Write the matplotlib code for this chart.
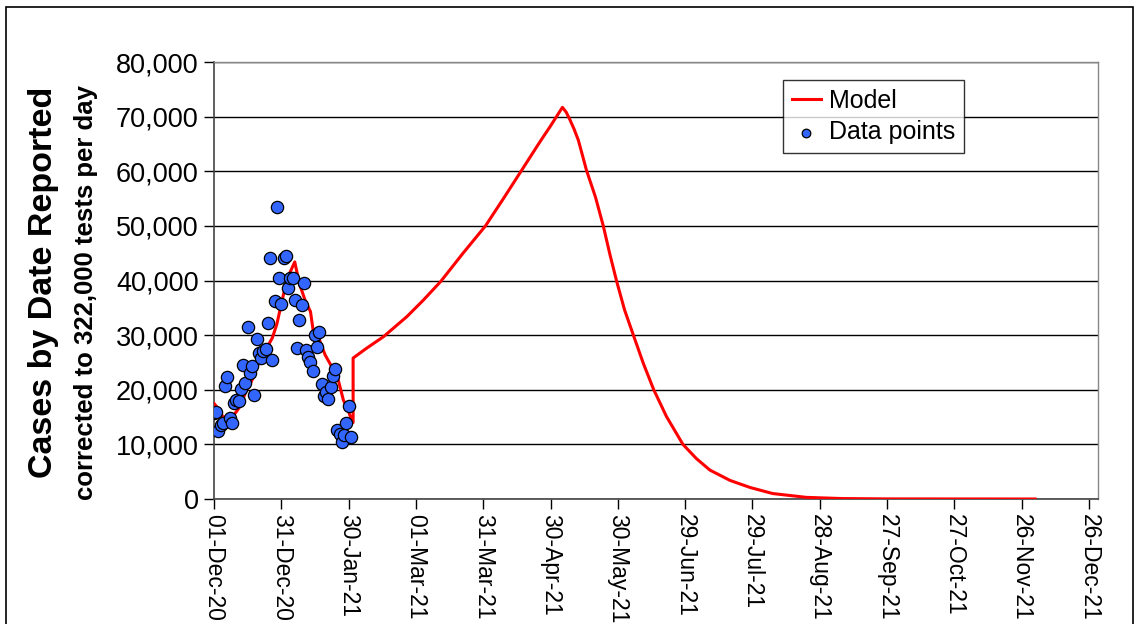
import numpy as np
import matplotlib.pyplot as plt
import matplotlib.dates as mdates
from matplotlib.patches import Rectangle
from matplotlib.ticker import FuncFormatter

plt.rcParams['font.family'] = ['Liberation Sans', 'DejaVu Sans']

START = np.datetime64('2020-12-01')

# daily reported cases, 01-Dec-20 .. 31-Jan-21 (thousands)
data_day = np.arange(62)
data_k = [15.7, 15.9, 12.4, 13.5, 14.0, 20.7, 22.4, 14.8, 13.9, 17.6,
          18.2, 17.9, 20.2, 24.6, 21.2, 31.5, 23.0, 24.4, 19.0, 29.2,
          26.8, 25.9, 27.1, 27.4, 32.3, 44.2, 25.5, 36.3, 53.4, 40.4,
          35.7, 44.2, 44.5, 38.7, 40.5, 40.4, 36.4, 27.7, 32.8, 35.5,
          39.5, 27.3, 26.0, 25.0, 23.5, 30.0, 27.8, 30.6, 21.0, 18.9,
          19.5, 18.3, 20.5, 22.6, 23.8, 12.7, 11.9, 10.4, 11.7, 14.0,
          17.1, 11.3]

# model curve (day offset, thousands)
model_day = [0, 2, 4, 8, 10, 12, 14, 17, 20, 22, 26, 28, 31, 33, 35, 36,
             38, 40.6, 43, 44.3, 47, 49.5, 52.5, 55.4, 57.7, 60, 61.5, 62,
             62, 68, 75.5, 86, 93.3, 101, 111, 121, 129, 137, 145.3, 150,
             155.3, 157, 158.7, 160.5, 162.4, 164.2, 166, 170, 173.5, 176.5,
             179.5, 183, 187, 191.4, 196, 201.7, 209, 215, 221, 230, 239,
             249, 264, 280, 300, 366]
model_k = [17.5, 16.5, 15.0, 15.0, 16.0, 17.2, 19.5, 21.8, 25.0, 26.5, 29.5,
           32.0, 37.5, 40.7, 42.5, 43.4, 39.5, 36.4, 34.3, 30.6, 29.1, 26.4,
           24.2, 21.8, 18.1, 16.0, 14.2, 14.0,
           25.8, 27.6, 29.7, 33.4, 36.4, 39.8, 45.0, 50.0, 55.0, 60.1, 65.4,
           68.3, 71.7, 70.8, 69.4, 67.7, 65.7, 63.0, 60.2, 55.3, 50.0, 44.7,
           39.8, 34.6, 29.9, 24.8, 20.0, 15.1, 10.0, 7.4, 5.3, 3.4, 2.1,
           1.0, 0.3, 0.08, 0.02, 0.0]

tick_days = np.arange(0, 391, 30)

data_x = START + data_day.astype('timedelta64[D]')
model_x = START + (np.array(model_day) * 24).astype(int).astype('timedelta64[h]')
data_y = np.array(data_k) * 1000
model_y = np.array(model_k) * 1000

W, H = 1135, 624
fig = plt.figure(figsize=(W / 100, H / 100), dpi=100)
ax = fig.add_axes([214 / W, 1 - 499 / H, (1098 - 214) / W, (499 - 62) / H])

ax.plot(model_x, model_y, color='red', lw=2.2, label='Model', zorder=3)
ax.scatter(data_x, data_y, s=78, color='#3366ff', edgecolor='black',
           linewidth=0.9, label='Data points', zorder=4)

ax.set_ylim(0, 80000)
ax.set_yticks(np.arange(0, 80001, 10000))
ax.yaxis.set_major_formatter(FuncFormatter(lambda v, p: f'{int(v):,}'))
ax.grid(axis='y', color='black', lw=1)
ax.set_axisbelow(True)

ax.set_xlim(START, START + np.timedelta64(394, 'D'))
ax.set_xticks(START + tick_days.astype('timedelta64[D]'))
ax.xaxis.set_major_formatter(mdates.DateFormatter('%d-%b-%y'))
plt.setp(ax.get_xticklabels(), rotation=-90, ha='center', va='top')

ax.tick_params(axis='y', labelsize=19.5, length=7, width=1, direction='out', pad=4)
ax.tick_params(axis='x', labelsize=16.5, length=7, width=1, direction='out', pad=4)
for side in ['left', 'bottom']:
    ax.spines[side].set_color('#444444')
    ax.spines[side].set_linewidth(1.2)
for side in ['top', 'right']:
    ax.spines[side].set_color('#888888')
    ax.spines[side].set_linewidth(1)

fig.text(44 / W, 1 - 282 / H, 'Cases by Date Reported', rotation=90,
         fontsize=24.5, fontweight='bold', ha='center', va='center')
fig.text(86 / W, 1 - 292 / H, 'corrected to 322,000 tests per day', rotation=90,
         fontsize=18.5, fontweight='bold', ha='center', va='center')

leg = ax.legend(loc='upper left', bbox_to_anchor=((783 - 214) / (1098 - 214), 1 - (80 - 62) / 437),
                fontsize=18, frameon=True, fancybox=False, edgecolor='black',
                handlelength=1.15, handletextpad=0.35, borderpad=0.35,
                borderaxespad=0, labelspacing=0.3, scatterpoints=1,
                markerscale=0.7)
leg.get_frame().set_linewidth(1)

# outer chart border
fig.add_artist(Rectangle((6 / W, -0.05), (1133 - 6) / W, 1 - 7 / H + 0.05,
                         transform=fig.transFigure, fill=False,
                         edgecolor='black', lw=1.2))

fig.savefig('out.png', dpi=100)
